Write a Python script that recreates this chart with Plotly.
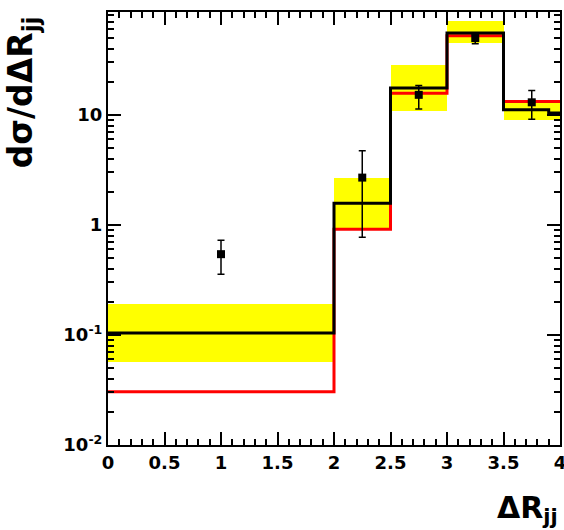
import plotly.graph_objects as go
import numpy as np

# ---- data ----
bin_edges = [0.0, 2.0, 2.5, 3.0, 3.5, 4.0]
red_vals = [0.0305, 0.914, 15.7, 52.2, 13.2]
band_low = [0.057, 0.914, 10.9, 44.9, 9.0]
band_high = [0.191, 2.66, 28.5, 71.6, 13.7]

black_edges = [0.0, 2.0, 2.5, 3.0, 3.5, 3.9, 4.0]
black_vals = [0.104, 1.57, 17.5, 55.3, 11.1, 10.4]

data_x = [1.0, 2.25, 2.75, 3.25, 3.75]
data_y = [0.542, 2.69, 15.2, 49.8, 13.0]
data_up = [0.726, 4.73, 18.5, 53.7, 16.6]
data_down = [0.356, 0.773, 11.3, 44.2, 9.14]

x_tickvals = [0, 0.5, 1, 1.5, 2, 2.5, 3, 3.5, 4]
x_ticktext = ["0", "0.5", "1", "1.5", "2", "2.5", "3", "3.5", "4"]
y_tickvals = [0.01, 0.1, 1, 10]
y_ticktext = ["10<sup>-2</sup>", "10<sup>-1</sup>", "1", "10"]

# ---- derived ----
centers = [(a + b) / 2 for a, b in zip(bin_edges[:-1], bin_edges[1:])]
widths = [b - a for a, b in zip(bin_edges[:-1], bin_edges[1:])]

fig = go.Figure()

# yellow uncertainty band
fig.add_trace(go.Bar(
    x=centers, y=[h - l for h, l in zip(band_high, band_low)], base=band_low,
    width=widths, marker=dict(color="#ffff00", line=dict(width=0)),
    showlegend=False, hoverinfo="skip"))

# red histogram
fig.add_trace(go.Scatter(
    x=bin_edges, y=red_vals + [red_vals[-1]], mode="lines",
    line=dict(color="#ff0000", width=3, shape="hv"), showlegend=False))

# black histogram
fig.add_trace(go.Scatter(
    x=black_edges, y=black_vals + [black_vals[-1]], mode="lines",
    line=dict(color="black", width=3, shape="hv"), showlegend=False))

# data points
fig.add_trace(go.Scatter(
    x=data_x, y=data_y, mode="markers",
    marker=dict(symbol="square", size=8, color="black"),
    error_y=dict(type="data", symmetric=False,
                 array=[u - y for u, y in zip(data_up, data_y)],
                 arrayminus=[y - d for y, d in zip(data_y, data_down)],
                 color="black", thickness=1.5, width=3.5),
    showlegend=False))

minor_y = []
for dec in [0.01, 0.1, 1, 10]:
    for m in range(2, 10):
        v = dec * m
        if v < 86:
            minor_y.append(v)

tickfont = dict(family="DejaVu Sans", size=18, color="black", weight="bold")

fig.update_layout(
    width=564, height=530,
    margin=dict(l=108, r=4, t=12, b=85, autoexpand=False),
    paper_bgcolor="white", plot_bgcolor="white",
    bargap=0,
    xaxis=dict(range=[0, 4], tickmode="array", tickvals=x_tickvals, ticktext=x_ticktext,
               ticks="inside", ticklen=13, tickwidth=2, tickcolor="black",
               ticklabeloverflow="allow", automargin=False,
               minor=dict(ticks="inside", ticklen=6, tickwidth=2, tickcolor="black",
                          tickmode="array",
                          tickvals=[round(0.1 * i, 2) for i in range(41) if i % 5 != 0]),
               showline=True, linecolor="black", linewidth=2, mirror="ticks",
               showgrid=False, zeroline=False, tickfont=tickfont),
    yaxis=dict(type="log", range=[-2, np.log10(86)], tickmode="array",
               tickvals=y_tickvals, ticktext=y_ticktext, automargin=False,
               ticks="inside", ticklen=13, tickwidth=2, tickcolor="black",
               minor=dict(ticks="inside", ticklen=6, tickwidth=2, tickcolor="black",
                          tickmode="array", tickvals=minor_y),
               showline=True, linecolor="black", linewidth=2, mirror="ticks",
               showgrid=False, zeroline=False, tickfont=tickfont),
    annotations=[
        dict(text="ΔR<sub>jj</sub>", xref="paper", yref="paper", x=1.0, y=-0.1,
             xanchor="right", yanchor="top", showarrow=False,
             font=dict(family="DejaVu Sans", size=30, color="black", weight="bold")),
        dict(text="dσ/dΔR<sub>jj</sub>", xref="paper", yref="paper", x=-0.19, y=0.995,
             xanchor="center", yanchor="top", textangle=-90, showarrow=False,
             font=dict(family="DejaVu Sans", size=33, color="black", weight="bold")),
    ],
)

fig.write_html("out.html")
